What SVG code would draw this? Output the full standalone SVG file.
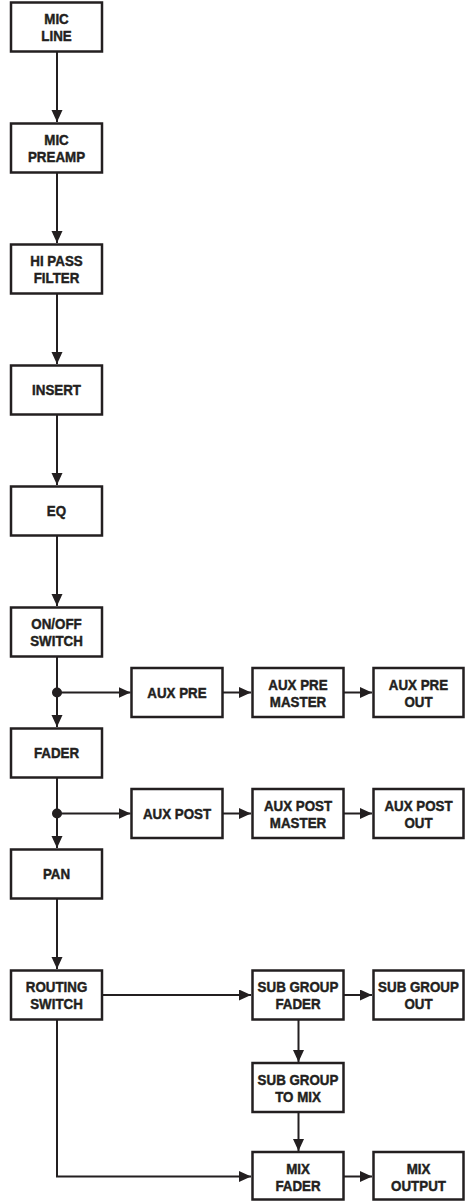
<svg xmlns="http://www.w3.org/2000/svg" width="465" height="1201" viewBox="0 0 465 1201">
<style>
.box{fill:#fff;stroke:#231f20;stroke-width:2.5}
.t{font-family:"Liberation Sans",Arial,sans-serif;font-weight:bold;font-size:15px;fill:#231f20;stroke:#231f20;stroke-width:0.45;text-anchor:middle}
.ln{fill:none;stroke:#231f20;stroke-width:2}
</style>
<defs>
<marker id="ah" markerUnits="userSpaceOnUse" markerWidth="13" markerHeight="12" refX="12" refY="5.5" orient="auto">
<path d="M0,0 L12,5.5 L0,11 z" fill="#231f20"/>
</marker>
</defs>
<g id="connectors">
<line class="ln" x1="57" y1="52" x2="57" y2="122" marker-end="url(#ah)"/>
<line class="ln" x1="57" y1="173" x2="57" y2="243" marker-end="url(#ah)"/>
<line class="ln" x1="57" y1="294" x2="57" y2="364" marker-end="url(#ah)"/>
<line class="ln" x1="57" y1="415" x2="57" y2="485" marker-end="url(#ah)"/>
<line class="ln" x1="57" y1="536" x2="57" y2="606" marker-end="url(#ah)"/>
<line class="ln" x1="57" y1="657" x2="57" y2="727" marker-end="url(#ah)"/>
<circle cx="57" cy="692.5" r="5" fill="#231f20"/>
<line class="ln" x1="57" y1="692.5" x2="130.5" y2="692.5" marker-end="url(#ah)"/>
<line class="ln" x1="223" y1="692.5" x2="251" y2="692.5" marker-end="url(#ah)"/>
<line class="ln" x1="344" y1="692.5" x2="372" y2="692.5" marker-end="url(#ah)"/>
<line class="ln" x1="57" y1="778" x2="57" y2="848" marker-end="url(#ah)"/>
<circle cx="57" cy="813.5" r="5" fill="#231f20"/>
<line class="ln" x1="57" y1="813.5" x2="130.5" y2="813.5" marker-end="url(#ah)"/>
<line class="ln" x1="223" y1="813.5" x2="251" y2="813.5" marker-end="url(#ah)"/>
<line class="ln" x1="344" y1="813.5" x2="372" y2="813.5" marker-end="url(#ah)"/>
<line class="ln" x1="57" y1="899" x2="57" y2="969" marker-end="url(#ah)"/>
<line class="ln" x1="102" y1="995" x2="251" y2="995" marker-end="url(#ah)"/>
<line class="ln" x1="344" y1="995" x2="372" y2="995" marker-end="url(#ah)"/>
<line class="ln" x1="298.5" y1="1020" x2="298.5" y2="1062" marker-end="url(#ah)"/>
<line class="ln" x1="298.5" y1="1112" x2="298.5" y2="1151" marker-end="url(#ah)"/>
<polyline class="ln" points="57,1020 57,1176.5 251,1176.5" marker-end="url(#ah)"/>
<line class="ln" x1="344" y1="1176.5" x2="372" y2="1176.5" marker-end="url(#ah)"/>
</g>
<g id="mic-line"><rect class="box" x="11" y="2.5" width="91" height="49"/><text class="t" transform="matrix(0.89 0 0 1 56.5 0)" x="0" y="24.5">MIC</text><text class="t" transform="matrix(0.89 0 0 1 56.5 0)" x="0" y="41.5">LINE</text></g>
<g id="mic-preamp"><rect class="box" x="11" y="123.5" width="91" height="49"/><text class="t" transform="matrix(0.89 0 0 1 56.5 0)" x="0" y="145.5">MIC</text><text class="t" transform="matrix(0.89 0 0 1 56.5 0)" x="0" y="162.5">PREAMP</text></g>
<g id="hi-pass"><rect class="box" x="11" y="244.5" width="91" height="49"/><text class="t" transform="matrix(0.89 0 0 1 56.5 0)" x="0" y="266.5">HI PASS</text><text class="t" transform="matrix(0.89 0 0 1 56.5 0)" x="0" y="283.5">FILTER</text></g>
<g id="insert"><rect class="box" x="11" y="365.5" width="91" height="49"/><text class="t" transform="matrix(0.89 0 0 1 56.5 0)" x="0" y="395.5">INSERT</text></g>
<g id="eq"><rect class="box" x="11" y="486.5" width="91" height="49"/><text class="t" transform="matrix(0.89 0 0 1 56.5 0)" x="0" y="516.5">EQ</text></g>
<g id="onoff"><rect class="box" x="11" y="607.5" width="91" height="49"/><text class="t" transform="matrix(0.89 0 0 1 56.5 0)" x="0" y="629.5">ON/OFF</text><text class="t" transform="matrix(0.89 0 0 1 56.5 0)" x="0" y="646.5">SWITCH</text></g>
<g id="fader"><rect class="box" x="11" y="728.5" width="91" height="49"/><text class="t" transform="matrix(0.89 0 0 1 56.5 0)" x="0" y="758.5">FADER</text></g>
<g id="pan"><rect class="box" x="11" y="849.5" width="91" height="49"/><text class="t" transform="matrix(0.89 0 0 1 56.5 0)" x="0" y="879.5">PAN</text></g>
<g id="routing"><rect class="box" x="11" y="970.5" width="91" height="49"/><text class="t" transform="matrix(0.89 0 0 1 56.5 0)" x="0" y="992.5">ROUTING</text><text class="t" transform="matrix(0.89 0 0 1 56.5 0)" x="0" y="1009.5">SWITCH</text></g>
<g id="aux-pre"><rect class="box" x="131.5" y="668" width="91" height="49"/><text class="t" transform="matrix(0.89 0 0 1 177 0)" x="0" y="698">AUX PRE</text></g>
<g id="aux-pre-master"><rect class="box" x="252.5" y="668" width="91" height="49"/><text class="t" transform="matrix(0.89 0 0 1 298 0)" x="0" y="690">AUX PRE</text><text class="t" transform="matrix(0.89 0 0 1 298 0)" x="0" y="707">MASTER</text></g>
<g id="aux-pre-out"><rect class="box" x="373.5" y="668" width="90" height="49"/><text class="t" transform="matrix(0.89 0 0 1 418.5 0)" x="0" y="690">AUX PRE</text><text class="t" transform="matrix(0.89 0 0 1 418.5 0)" x="0" y="707">OUT</text></g>
<g id="aux-post"><rect class="box" x="131.5" y="789" width="91" height="49"/><text class="t" transform="matrix(0.89 0 0 1 177 0)" x="0" y="819">AUX POST</text></g>
<g id="aux-post-master"><rect class="box" x="252.5" y="789" width="91" height="49"/><text class="t" transform="matrix(0.89 0 0 1 298 0)" x="0" y="811">AUX POST</text><text class="t" transform="matrix(0.89 0 0 1 298 0)" x="0" y="828">MASTER</text></g>
<g id="aux-post-out"><rect class="box" x="373.5" y="789" width="90" height="49"/><text class="t" transform="matrix(0.89 0 0 1 418.5 0)" x="0" y="811">AUX POST</text><text class="t" transform="matrix(0.89 0 0 1 418.5 0)" x="0" y="828">OUT</text></g>
<g id="sub-group-fader"><rect class="box" x="252.5" y="970.5" width="91" height="49"/><text class="t" transform="matrix(0.89 0 0 1 298 0)" x="0" y="992.5">SUB GROUP</text><text class="t" transform="matrix(0.89 0 0 1 298 0)" x="0" y="1009.5">FADER</text></g>
<g id="sub-group-out"><rect class="box" x="373.5" y="970.5" width="90" height="49"/><text class="t" transform="matrix(0.89 0 0 1 418.5 0)" x="0" y="992.5">SUB GROUP</text><text class="t" transform="matrix(0.89 0 0 1 418.5 0)" x="0" y="1009.5">OUT</text></g>
<g id="sub-group-to-mix"><rect class="box" x="252.5" y="1063" width="91" height="49"/><text class="t" transform="matrix(0.89 0 0 1 298 0)" x="0" y="1085">SUB GROUP</text><text class="t" transform="matrix(0.89 0 0 1 298 0)" x="0" y="1102">TO MIX</text></g>
<g id="mix-fader"><rect class="box" x="252.5" y="1152" width="91" height="47.5"/><text class="t" transform="matrix(0.89 0 0 1 298 0)" x="0" y="1174">MIX</text><text class="t" transform="matrix(0.89 0 0 1 298 0)" x="0" y="1191">FADER</text></g>
<g id="mix-output"><rect class="box" x="373.5" y="1152" width="90" height="47.5"/><text class="t" transform="matrix(0.89 0 0 1 418.5 0)" x="0" y="1174">MIX</text><text class="t" transform="matrix(0.89 0 0 1 418.5 0)" x="0" y="1191">OUTPUT</text></g>
</svg>
